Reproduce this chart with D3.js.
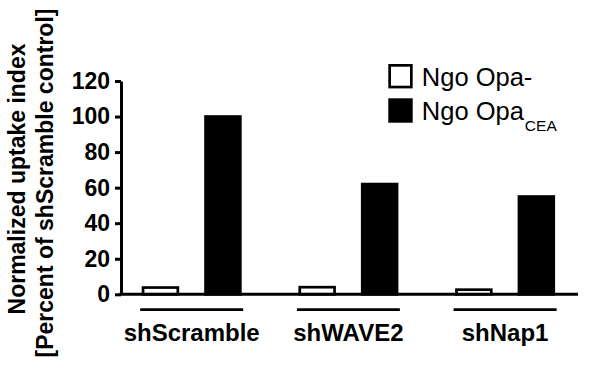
<!DOCTYPE html>
<html>
<head>
<meta charset="utf-8">
<script src="https://cdn.jsdelivr.net/npm/d3@7"></script>
<style>
  body { margin: 0; background: #fff; }
  svg { display: block; font-family: 'Liberation Sans', Arial, Helvetica, sans-serif; }
</style>
</head>
<body>
<div id="wrapper"></div>
<script>
// data
const categories = ['shScramble', 'shWAVE2', 'shNap1']
const seriesNames = ['Ngo Opa-', 'Ngo Opa']
const seriesSubs = ['', 'CEA']
const seriesFills = ['#fff', '#000']
const opaNeg = [3.8, 4, 2.6]
const opaCEA = [100, 62, 55]
const yTicks = [0, 20, 40, 60, 80, 100, 120]

function drawChart() {
  const dimensions = { width: 601, height: 375 }
  const plot = { left: 121, right: 578, top: 81, bottom: 294.3 }
  const sw = 2.7

  const wrapper = d3.select('#wrapper')
    .append('svg')
    .attr('width', dimensions.width)
    .attr('height', dimensions.height)

  wrapper.append('rect')
    .attr('width', dimensions.width)
    .attr('height', dimensions.height)
    .attr('fill', '#fff')

  // scales
  const yScale = d3.scaleLinear().domain([0, 120]).range([plot.bottom, plot.top])
  const xScale = d3.scaleBand()
    .domain(categories)
    .range([141.7, 555.1])
    .paddingInner(0.362)
    .paddingOuter(0)
  const subScale = d3.scaleBand()
    .domain(d3.range(seriesNames.length))
    .range([0, xScale.bandwidth()])
    .paddingInner(0.4)

  const rows = categories.map((c, i) => ({ cat: c, values: [opaNeg[i], opaCEA[i]] }))

  // bars
  const groups = wrapper.append('g')
    .selectAll('g')
    .data(rows)
    .join('g')
    .attr('transform', d => `translate(${xScale(d.cat)},0)`)

  groups.selectAll('rect')
    .data(d => d.values.map((v, k) => ({ v, k })))
    .join('rect')
    .attr('x', d => subScale(d.k) + sw / 2)
    .attr('width', subScale.bandwidth() - sw)
    .attr('y', d => yScale(d.v))
    .attr('height', d => yScale(0) - yScale(d.v))
    .attr('fill', d => seriesFills[d.k])
    .attr('stroke', '#000')
    .attr('stroke-width', sw)

  // y axis
  const yAxis = wrapper.append('g')
    .attr('transform', `translate(${plot.left},0)`)
    .call(d3.axisLeft(yScale).tickValues(yTicks).tickSize(6).tickPadding(5).tickSizeOuter(0))
  yAxis.select('.domain').attr('stroke-width', 3)
  yAxis.selectAll('.tick line').attr('stroke-width', 3)
  yAxis.selectAll('.tick text')
    .attr('fill', '#000')
    .style('font-size', '23px')
    .style('font-weight', 'bold')
    .style('font-family', "'Liberation Sans', Arial, sans-serif")

  // x baseline
  wrapper.append('line')
    .attr('x1', plot.left - 1.5)
    .attr('x2', plot.right)
    .attr('y1', yScale(0))
    .attr('y2', yScale(0))
    .attr('stroke', '#000')
    .attr('stroke-width', 3)

  // category underlines and labels
  wrapper.append('g')
    .selectAll('line')
    .data(categories)
    .join('line')
    .attr('x1', d => xScale(d) - 1.5)
    .attr('x2', d => xScale(d) + xScale.bandwidth() + 1.5)
    .attr('y1', 309.7)
    .attr('y2', 309.7)
    .attr('stroke', '#000')
    .attr('stroke-width', sw)

  wrapper.append('g')
    .selectAll('text')
    .data(categories)
    .join('text')
    .attr('x', d => xScale(d) + xScale.bandwidth() / 2)
    .attr('y', 341)
    .attr('text-anchor', 'middle')
    .style('font-size', '24px')
    .style('font-weight', 'bold')
    .text(d => d)

  // y axis title
  const yTitle = ['Normalized uptake index', '[Percent of shScramble control]']
  wrapper.append('g')
    .selectAll('text')
    .data(yTitle)
    .join('text')
    .attr('transform', (d, i) => `translate(${i === 0 ? 25 : 52.5},${i === 0 ? 179 : 183}) rotate(-90)`)
    .attr('text-anchor', 'middle')
    .style('font-size', '23px')
    .style('font-weight', 'bold')
    .text(d => d)

  // legend
  const legend = wrapper.append('g').attr('transform', 'translate(388.3,64)')
  const items = legend.selectAll('g')
    .data(seriesNames.map((n, k) => ({ n, k })))
    .join('g')
    .attr('transform', d => `translate(0,${d.k * 34.3})`)

  items.append('rect')
    .attr('x', sw / 2)
    .attr('y', sw / 2)
    .attr('width', 24.4 - sw)
    .attr('height', 24.4 - sw)
    .attr('fill', d => seriesFills[d.k])
    .attr('stroke', '#000')
    .attr('stroke-width', sw)

  const legendText = items.append('text')
    .attr('x', 33.5)
    .attr('y', 21.5)
    .style('font-size', '25.5px')
    .text(d => d.n)

  legendText.filter(d => seriesSubs[d.k])
    .append('tspan')
    .attr('dx', 1)
    .attr('dy', 11)
    .style('font-size', '15.5px')
    .text(d => seriesSubs[d.k])
}
drawChart()
</script>
</body>
</html>
